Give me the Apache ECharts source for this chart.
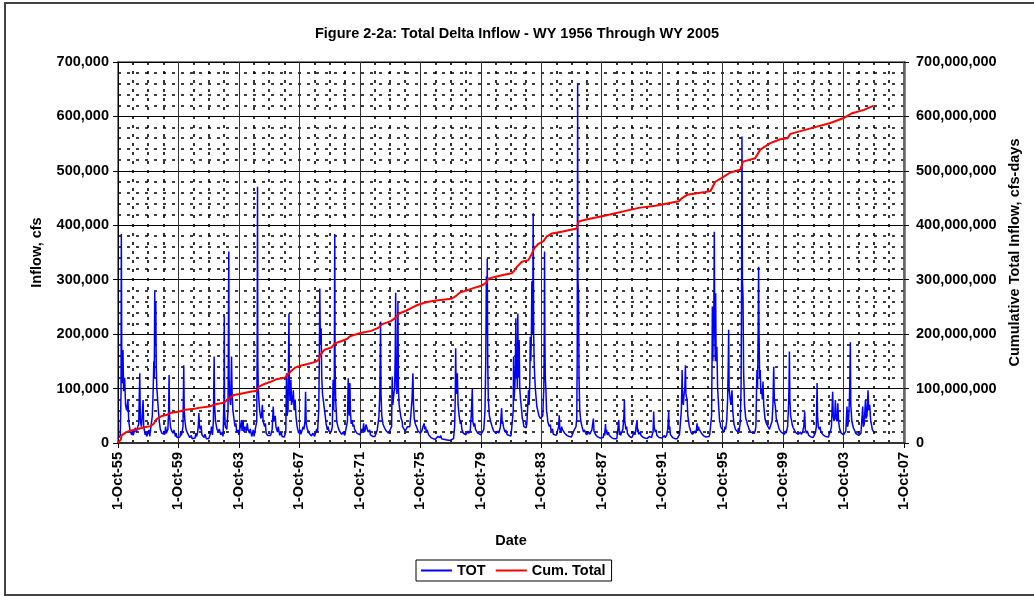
<!DOCTYPE html>
<html>
<head>
<meta charset="utf-8">
<script src="https://cdn.jsdelivr.net/npm/echarts@6/dist/echarts.min.js"></script>
<style>
  html, body { margin: 0; padding: 0; background: #fff; }
  #main { width: 1034px; height: 596px; }
</style>
</head>
<body>
<div id="main"></div>
<script>
// daily inflow (TOT): [decimal year, cfs]
var tot1956to1965 = [
  [1955.75,8000],[1955.82,11000],[1955.9,14000],[1955.95,90000],[1955.97,384000],[1956.0,150000],[1956.04,110000],[1956.08,171000],[1956.12,95000],[1956.19,120000],[1956.25,70000],[1956.32,60000],[1956.41,79000],[1956.46,40000],[1956.55,22000],[1956.65,15000],[1956.75,14000],
  [1956.85,15000],[1956.95,20000],[1957.05,18000],[1957.12,35000],[1957.19,128000],[1957.23,40000],[1957.3,30000],[1957.41,79000],[1957.45,30000],[1957.55,15000],[1957.65,12000],[1957.75,11000],
  [1957.85,12000],[1957.95,15000],[1958.02,50000],[1958.07,90000],[1958.12,150000],[1958.15,120000],[1958.18,278000],[1958.21,180000],[1958.25,260000],[1958.28,140000],[1958.32,100000],[1958.36,85000],[1958.42,60000],[1958.48,40000],[1958.55,25000],[1958.65,18000],[1958.75,15000],
  [1958.85,16000],[1958.95,18000],[1959.05,25000],[1959.1,60000],[1959.13,125000],[1959.16,50000],[1959.22,30000],[1959.3,22000],[1959.4,18000],[1959.55,12000],[1959.65,10000],[1959.75,10000],
  [1959.85,11000],[1959.95,14000],[1960.05,30000],[1960.1,143000],[1960.13,60000],[1960.18,40000],[1960.25,25000],[1960.35,18000],[1960.5,10000],[1960.65,8000],[1960.75,8000],
  [1960.85,9000],[1960.95,12000],[1961.02,20000],[1961.07,35000],[1961.1,55000],[1961.14,30000],[1961.2,25000],[1961.3,15000],[1961.45,10000],[1961.6,8000],[1961.75,8000],
  [1961.85,10000],[1961.93,30000],[1962.0,15000],[1962.06,40000],[1962.11,159000],[1962.14,70000],[1962.2,40000],[1962.3,25000],[1962.4,20000],[1962.55,15000],[1962.7,12000],[1962.75,13000],
  [1962.76,80000],[1962.78,233000],[1962.8,60000],[1962.85,30000],[1962.95,25000],[1963.03,60000],[1963.08,352000],[1963.1,120000],[1963.15,80000],[1963.2,70000],[1963.26,159000],[1963.3,90000],[1963.35,60000],[1963.42,45000],[1963.5,30000],[1963.6,20000],[1963.75,15000],
  [1963.85,18000],[1963.92,42000],[1963.96,22000],[1964.05,25000],[1964.15,30000],[1964.25,22000],[1964.35,25000],[1964.45,18000],[1964.6,12000],[1964.75,12000],
  [1964.85,15000],[1964.93,40000],[1964.96,200000],[1964.98,471000],[1965.0,150000],[1965.03,100000],[1965.07,79000],[1965.12,60000],[1965.2,45000],[1965.3,70000],[1965.35,40000],[1965.45,30000],[1965.55,18000],[1965.65,14000],[1965.75,13000]
];
var tot1966to1975 = [
  [1965.85,14000],[1965.95,25000],[1966.02,67000],[1966.06,40000],[1966.12,45000],[1966.2,30000],[1966.3,20000],[1966.45,14000],[1966.6,12000],[1966.75,11000],
  [1966.85,20000],[1966.9,128000],[1966.93,50000],[1967.0,60000],[1967.06,238000],[1967.09,100000],[1967.13,80000],[1967.19,116000],[1967.23,70000],[1967.3,80000],[1967.35,97000],[1967.4,60000],[1967.47,80000],[1967.52,50000],[1967.6,30000],[1967.7,18000],[1967.75,16000],
  [1967.85,16000],[1967.95,18000],[1968.05,25000],[1968.12,40000],[1968.16,94000],[1968.2,35000],[1968.28,25000],[1968.4,18000],[1968.55,13000],[1968.75,12000],
  [1968.85,14000],[1968.95,20000],[1969.03,60000],[1969.07,150000],[1969.1,284000],[1969.14,180000],[1969.19,211000],[1969.23,120000],[1969.28,90000],[1969.32,88000],[1969.37,70000],[1969.41,73000],[1969.46,50000],[1969.52,35000],[1969.6,24000],[1969.7,22000],[1969.75,20000],
  [1969.85,20000],[1969.93,30000],[1969.98,116000],[1970.02,60000],[1970.06,120000],[1970.09,384000],[1970.11,150000],[1970.15,80000],[1970.22,40000],[1970.3,30000],[1970.4,22000],[1970.55,16000],[1970.75,14000],
  [1970.85,15000],[1970.93,40000],[1970.98,119000],[1971.02,60000],[1971.06,50000],[1971.09,110000],[1971.13,55000],[1971.18,35000],[1971.24,42000],[1971.3,30000],[1971.4,25000],[1971.55,18000],[1971.75,15000],
  [1971.85,16000],[1971.95,22000],[1972.0,36000],[1972.05,20000],[1972.12,25000],[1972.2,30000],[1972.3,20000],[1972.45,15000],[1972.6,12000],[1972.75,12000],
  [1972.85,14000],[1972.95,25000],[1973.01,48000],[1973.07,90000],[1973.12,223000],[1973.15,90000],[1973.2,50000],[1973.28,35000],[1973.38,28000],[1973.5,22000],[1973.65,18000],[1973.75,17000],
  [1973.85,30000],[1973.89,122000],[1973.93,70000],[1974.0,90000],[1974.05,100000],[1974.09,160000],[1974.12,276000],[1974.15,120000],[1974.2,90000],[1974.24,140000],[1974.27,257000],[1974.3,100000],[1974.35,70000],[1974.4,67000],[1974.48,45000],[1974.58,30000],[1974.75,22000],
  [1974.85,20000],[1974.95,28000],[1975.05,30000],[1975.12,50000],[1975.2,80000],[1975.26,128000],[1975.3,70000],[1975.35,45000],[1975.42,35000],[1975.5,30000],[1975.6,22000],[1975.75,18000]
];
var tot1976to1985 = [
  [1975.85,22000],[1975.95,30000],[1976.0,36000],[1976.05,25000],[1976.15,20000],[1976.3,15000],[1976.45,10000],[1976.6,8000],[1976.75,7000],
  [1976.85,7000],[1976.95,9000],[1977.05,10000],[1977.15,8000],[1977.3,7000],[1977.45,6000],[1977.6,5000],[1977.75,5000],
  [1977.85,6000],[1977.95,8000],[1978.02,30000],[1978.06,80000],[1978.09,174000],[1978.12,100000],[1978.17,90000],[1978.2,128000],[1978.25,70000],[1978.32,50000],[1978.4,35000],[1978.5,25000],[1978.6,18000],[1978.75,15000],
  [1978.85,15000],[1978.95,18000],[1979.05,22000],[1979.12,50000],[1979.19,100000],[1979.22,40000],[1979.3,30000],[1979.4,25000],[1979.55,18000],[1979.75,15000],
  [1979.85,16000],[1979.95,25000],[1980.03,60000],[1980.08,150000],[1980.12,306000],[1980.15,200000],[1980.18,339000],[1980.21,150000],[1980.25,80000],[1980.32,50000],[1980.4,40000],[1980.5,30000],[1980.6,22000],[1980.75,18000],
  [1980.85,16000],[1980.95,18000],[1981.05,30000],[1981.13,64000],[1981.17,35000],[1981.25,30000],[1981.35,20000],[1981.5,15000],[1981.75,13000],
  [1981.85,15000],[1981.9,60000],[1981.92,159000],[1981.95,80000],[1982.0,100000],[1982.04,140000],[1982.07,229000],[1982.1,120000],[1982.14,150000],[1982.17,100000],[1982.2,238000],[1982.23,140000],[1982.26,120000],[1982.29,189000],[1982.33,100000],[1982.38,80000],[1982.43,67000],[1982.5,45000],[1982.6,30000],[1982.75,28000],
  [1982.85,35000],[1982.91,97000],[1982.95,70000],[1983.0,120000],[1983.02,195000],[1983.06,150000],[1983.1,200000],[1983.13,297000],[1983.16,200000],[1983.19,250000],[1983.22,422000],[1983.25,200000],[1983.28,150000],[1983.31,128000],[1983.36,100000],[1983.42,80000],[1983.46,67000],[1983.52,60000],[1983.6,50000],[1983.7,45000],[1983.75,45000],
  [1983.85,50000],[1983.92,100000],[1983.95,200000],[1983.97,352000],[1983.99,200000],[1984.02,120000],[1984.06,97000],[1984.1,60000],[1984.18,40000],[1984.28,30000],[1984.4,22000],[1984.55,16000],[1984.75,14000],
  [1984.85,15000],[1984.9,30000],[1984.94,51000],[1984.98,25000],[1985.05,20000],[1985.15,25000],[1985.3,18000],[1985.45,14000],[1985.6,12000],[1985.75,11000]
];
var tot1986to1995 = [
  [1985.85,12000],[1985.95,20000],[1986.05,30000],[1986.1,45000],[1986.13,150000],[1986.16,661000],[1986.18,300000],[1986.22,269000],[1986.25,120000],[1986.3,60000],[1986.37,40000],[1986.45,30000],[1986.55,20000],[1986.75,15000],
  [1986.85,14000],[1986.95,16000],[1987.05,18000],[1987.15,25000],[1987.2,45000],[1987.24,22000],[1987.35,15000],[1987.5,11000],[1987.65,9000],[1987.75,9000],
  [1987.85,10000],[1987.95,14000],[1988.0,35000],[1988.04,18000],[1988.12,15000],[1988.25,14000],[1988.4,10000],[1988.55,8000],[1988.75,8000],
  [1988.85,10000],[1988.88,42000],[1988.92,15000],[1989.0,14000],[1989.08,20000],[1989.15,25000],[1989.22,50000],[1989.25,79000],[1989.28,40000],[1989.35,25000],[1989.45,18000],[1989.6,12000],[1989.75,10000],
  [1989.85,12000],[1989.95,15000],[1990.05,18000],[1990.09,42000],[1990.12,20000],[1990.2,16000],[1990.35,14000],[1990.5,10000],[1990.75,8000],
  [1990.85,8000],[1990.95,9000],[1991.05,10000],[1991.15,20000],[1991.19,58000],[1991.22,30000],[1991.3,20000],[1991.4,14000],[1991.55,10000],[1991.75,9000],
  [1991.85,9000],[1991.95,10000],[1992.05,14000],[1992.12,25000],[1992.18,58000],[1992.21,25000],[1992.3,15000],[1992.45,10000],[1992.6,8000],[1992.75,8000],
  [1992.85,9000],[1992.95,15000],[1993.02,60000],[1993.05,100000],[1993.07,134000],[1993.1,80000],[1993.15,70000],[1993.2,90000],[1993.25,100000],[1993.29,143000],[1993.32,90000],[1993.4,79000],[1993.45,50000],[1993.55,30000],[1993.65,20000],[1993.75,16000],
  [1993.85,16000],[1993.95,18000],[1994.02,25000],[1994.06,36000],[1994.1,22000],[1994.2,25000],[1994.35,18000],[1994.5,13000],[1994.65,11000],[1994.75,11000],
  [1994.85,12000],[1994.95,14000],[1995.02,50000],[1995.05,150000],[1995.07,251000],[1995.1,150000],[1995.13,200000],[1995.17,250000],[1995.2,388000],[1995.23,200000],[1995.27,150000],[1995.29,275000],[1995.32,150000],[1995.37,177000],[1995.42,100000],[1995.49,67000],[1995.55,40000],[1995.62,30000],[1995.75,24000]
];
var tot1996to2005 = [
  [1995.85,20000],[1995.95,25000],[1996.02,40000],[1996.08,80000],[1996.12,140000],[1996.15,208000],[1996.18,100000],[1996.25,80000],[1996.3,70000],[1996.37,97000],[1996.42,60000],[1996.5,35000],[1996.6,25000],[1996.75,20000],
  [1996.85,22000],[1996.92,40000],[1996.97,100000],[1997.0,250000],[1997.03,563000],[1997.06,300000],[1997.1,269000],[1997.14,130000],[1997.2,70000],[1997.28,45000],[1997.38,35000],[1997.5,25000],[1997.62,20000],[1997.75,18000],
  [1997.85,18000],[1997.95,30000],[1998.02,134000],[1998.06,100000],[1998.1,200000],[1998.13,324000],[1998.16,200000],[1998.2,120000],[1998.24,134000],[1998.28,90000],[1998.33,100000],[1998.38,80000],[1998.42,113000],[1998.47,70000],[1998.55,45000],[1998.65,36000],[1998.75,30000],
  [1998.85,25000],[1998.95,30000],[1999.02,40000],[1999.08,70000],[1999.13,140000],[1999.17,80000],[1999.24,67000],[1999.3,45000],[1999.4,35000],[1999.5,25000],[1999.62,20000],[1999.75,18000],
  [1999.85,16000],[1999.95,18000],[2000.05,30000],[2000.1,60000],[2000.14,100000],[2000.17,168000],[2000.2,80000],[2000.25,50000],[2000.32,40000],[2000.42,28000],[2000.55,20000],[2000.75,16000],
  [2000.85,15000],[2000.95,16000],[2001.05,20000],[2001.12,30000],[2001.18,58000],[2001.22,25000],[2001.3,18000],[2001.45,14000],[2001.6,11000],[2001.75,10000],
  [2001.85,12000],[2001.95,30000],[2002.0,110000],[2002.03,50000],[2002.08,30000],[2002.15,25000],[2002.25,20000],[2002.4,15000],[2002.55,12000],[2002.75,11000],
  [2002.85,12000],[2002.95,30000],[2003.03,94000],[2003.07,50000],[2003.12,40000],[2003.17,50000],[2003.21,79000],[2003.25,45000],[2003.32,40000],[2003.37,73000],[2003.42,40000],[2003.5,25000],[2003.6,18000],[2003.75,15000],
  [2003.85,14000],[2003.93,20000],[2003.98,67000],[2004.02,30000],[2004.08,40000],[2004.14,80000],[2004.17,120000],[2004.2,185000],[2004.23,70000],[2004.3,40000],[2004.4,28000],[2004.55,18000],[2004.75,14000],
  [2004.85,14000],[2004.95,20000],[2005.02,67000],[2005.06,30000],[2005.12,35000],[2005.2,79000],[2005.25,45000],[2005.3,50000],[2005.37,97000],[2005.42,60000],[2005.48,70000],[2005.55,40000],[2005.65,25000],[2005.75,20000]
];
// smaller wiggles in the low-flow band between the storm peaks
var totSmallPeaks = [
  [1956.7,22000],[1956.9,28000],[1957.6,20000],[1957.8,24000],[1958.6,26000],[1958.9,30000],[1959.45,24000],[1959.6,18000],[1959.9,22000],
  [1960.4,20000],[1960.6,14000],[1960.9,18000],[1961.25,32000],[1961.5,16000],[1961.9,20000],[1962.25,38000],[1962.45,26000],[1962.65,20000],
  [1963.55,36000],[1963.7,24000],[1964.03,42000],[1964.1,20000],[1964.3,36000],[1964.5,26000],[1964.7,24000],[1965.25,50000],[1965.5,36000],[1965.9,20000],
  [1966.15,50000],[1966.35,30000],[1966.55,20000],[1967.8,24000],[1968.0,30000],[1968.35,28000],[1968.5,20000],[1968.65,18000],[1968.9,26000],
  [1969.65,30000],[1970.35,28000],[1970.5,24000],[1970.65,20000],[1971.35,34000],[1971.5,24000],[1971.65,20000],[1971.9,26000],
  [1972.15,34000],[1972.4,24000],[1972.55,18000],[1972.9,24000],[1973.45,30000],[1973.6,24000],[1974.55,40000],[1974.65,28000],[1974.9,30000],
  [1975.55,28000],[1975.7,24000],[1975.9,28000],[1976.1,30000],[1976.2,24000],[1976.35,14000],[1976.9,12000],[1977.1,14000],[1977.2,10000],
  [1978.45,40000],[1978.55,26000],[1978.9,22000],[1979.35,36000],[1979.45,28000],[1979.65,20000],[1980.45,40000],[1980.55,28000],[1980.9,22000],
  [1981.2,40000],[1981.4,24000],[1981.6,18000],[1982.55,40000],[1982.65,30000],[1982.8,36000],[1983.65,52000],[1984.15,50000],[1984.35,34000],
  [1984.5,26000],[1984.65,18000],[1985.1,30000],[1985.25,26000],[1985.4,20000],[1985.9,22000],[1986.4,38000],[1986.6,24000],[1986.9,20000],
  [1987.1,24000],[1987.4,16000],[1987.9,18000],[1988.08,24000],[1988.2,20000],[1988.35,16000],[1988.95,22000],[1989.05,18000],[1989.4,30000],
  [1989.5,16000],[1989.9,20000],[1990.15,26000],[1990.3,20000],[1990.45,14000],[1990.9,12000],[1991.1,16000],[1991.35,24000],[1991.5,14000],
  [1991.9,14000],[1992.08,20000],[1992.25,30000],[1992.4,16000],[1992.9,16000],[1993.5,40000],[1993.6,26000],[1993.9,22000],[1994.15,30000],
  [1994.3,24000],[1994.45,18000],[1994.9,16000],[1995.6,36000],[1995.9,30000],[1996.45,50000],[1996.55,30000],[1996.8,28000],[1997.35,40000],
  [1997.45,30000],[1997.55,24000],[1997.9,22000],[1998.6,40000],[1998.7,34000],[1998.9,30000],[1999.35,40000],[1999.45,30000],[1999.55,26000],
  [1999.9,22000],[2000.35,34000],[2000.5,24000],[2000.9,20000],[2001.08,26000],[2001.35,22000],[2001.5,16000],[2001.9,20000],[2002.2,30000],
  [2002.35,20000],[2002.5,14000],[2002.9,24000],[2003.45,34000],[2003.55,22000],[2003.9,22000],[2004.35,34000],[2004.5,22000],[2004.65,18000],
  [2004.9,18000],[2005.6,34000],[2005.7,22000]
];

// cumulative total inflow, cfs-days: [decimal year, value]
var cumTotal = [
  [1955.75,0],[1955.85,2000000],[1955.93,6000000],[1955.99,14000000],[1956.05,17000000],[1956.3,20000000],[1956.6,23000000],[1957.0,25000000],[1957.25,27000000],[1957.5,29000000],[1957.9,31000000],[1958.1,35000000],[1958.3,44000000],[1958.6,49000000],[1959.0,52000000],[1959.2,55000000],[1959.8,58000000],[1960.2,61000000],[1960.8,63000000],[1961.2,65000000],[1961.8,67000000],[1962.2,71000000],[1962.75,74000000],[1962.8,76000000],[1963.1,82000000],[1963.4,88000000],[1963.8,90000000],[1964.5,94000000],[1964.95,96000000],[1965.05,103000000],[1965.4,108000000],[1965.8,112000000],[1966.2,117000000],[1966.8,120000000],[1966.95,125000000],[1967.15,131000000],[1967.5,139000000],[1967.8,142000000],[1968.3,145000000],[1968.8,149000000],
  [1969.0,152000000],[1969.14,162000000],[1969.4,171000000],[1969.9,176000000],[1970.1,183000000],[1970.5,187000000],[1970.9,191000000],[1971.1,196000000],[1971.8,202000000],[1972.5,206000000],[1973.0,212000000],[1973.2,218000000],[1973.8,224000000],[1974.1,230000000],[1974.35,238000000],[1974.8,243000000],[1975.3,250000000],[1975.6,254000000],[1976.2,259000000],[1976.8,262000000],[1977.8,265000000],[1978.1,270000000],[1978.4,277000000],[1978.8,280000000],[1979.3,285000000],[1979.8,289000000],[1980.1,294000000],[1980.25,302000000],[1980.8,306000000],[1981.3,309000000],[1981.8,312000000],
  [1981.95,316000000],[1982.15,324000000],[1982.47,333000000],[1982.9,336000000],[1983.1,346000000],[1983.3,358000000],[1983.57,366000000],[1983.9,371000000],[1984.1,379000000],[1984.46,385000000],[1985.1,388000000],[1986.1,394000000],[1986.22,407000000],[1986.66,410000000],[1988.0,418000000],[1990.2,432000000],[1991.3,436000000],[1992.85,444000000],[1993.07,450000000],[1993.4,456000000],[1994.6,461000000],[1994.95,463000000],
  [1995.26,480000000],[1995.7,487000000],[1996.26,497000000],[1996.92,502000000],[1997.1,517000000],[1997.9,523000000],[1998.24,539000000],[1998.9,551000000],[1999.57,558000000],[2000.05,560000000],[2000.23,568000000],[2001.56,578000000],[2002.88,588000000],[2003.76,597000000],[2004.32,606000000],[2005.1,612000000],[2005.75,620000000]
];

var startYear = 1955.75; // 1-Oct-55, left end of the date axis

function toAxis(list) {
  return list.map(function (p) { return [p[0] - startYear, p[1]]; });
}
function commas(v) {
  return String(v).replace(/\B(?=(\d{3})+(?!\d))/g, ',');
}

var totAll = [].concat(tot1956to1965, tot1966to1975, tot1976to1985, tot1986to1995, tot1996to2005, totSmallPeaks);
totAll.sort(function (a, b) { return a[0] - b[0]; });
var totData = toAxis(totAll);
var cumData = toAxis(cumTotal);

var font = 'Liberation Sans, Arial, sans-serif';
var dotted = { color: '#000', width: 1.6, type: [3, 6] };
var txt = { fontFamily: font, fontWeight: 'bold', fontSize: 14.5, color: '#000' };

var chart = echarts.init(document.getElementById('main'));
var option = {
  animation: false,
  title: {
    text: 'Figure 2-2a: Total Delta Inflow - WY 1956 Through WY 2005',
    left: 'center',
    top: 21,
    textStyle: txt
  },
  graphic: [{
    type: 'rect',
    shape: { x: 5, y: 3, width: 1040, height: 592 },
    style: { fill: null, stroke: '#444', lineWidth: 2 },
    silent: true
  }],
  legend: {
    left: 416,
    top: 560,
    padding: [3, 6, 3, 5],
    itemGap: 10,
    itemWidth: 31,
    itemHeight: 2,
    icon: 'rect',
    borderColor: '#000',
    borderWidth: 1,
    textStyle: txt,
    data: ['TOT', 'Cum. Total']
  },
  grid: {
    left: 118, right: 130, top: 62, bottom: 153,
    show: true, borderColor: '#808080', borderWidth: 2
  },
  xAxis: {
    type: 'value',
    min: 0, max: 52, interval: 4,
    name: 'Date',
    nameLocation: 'middle',
    nameGap: 90,
    nameTextStyle: txt,
    axisLine: { lineStyle: { color: '#333', width: 2 } },
    axisTick: { length: 5, lineStyle: { color: '#000' } },
    axisLabel: Object.assign({
      rotate: 90, margin: 9,
      formatter: function (v) { return '1-Oct-' + String((55 + v) % 100).padStart(2, '0'); }
    }, txt),
    splitLine: { show: true, lineStyle: { color: '#333', width: 1 } },
    minorTick: { show: false, splitNumber: 4 },
    minorSplitLine: { show: true, lineStyle: dotted }
  },
  yAxis: [{
    type: 'value',
    min: 0, max: 700000, interval: 100000,
    name: 'Inflow, cfs',
    nameLocation: 'middle',
    nameGap: 74,
    nameRotate: 90,
    nameTextStyle: txt,
    axisLine: { show: true, lineStyle: { color: '#000', width: 1 } },
    axisTick: { show: true, length: 5, lineStyle: { color: '#000' } },
    axisLabel: Object.assign({ margin: 9, formatter: commas }, txt),
    splitLine: { show: true, lineStyle: { color: '#000', width: 1 } },
    minorTick: { show: false, splitNumber: 5 },
    minorSplitLine: { show: true, lineStyle: dotted }
  }, {
    type: 'value',
    position: 'right',
    min: 0, max: 700000000, interval: 100000000,
    name: 'Cumulative Total Inflow, cfs-days',
    nameLocation: 'middle',
    nameGap: 88,
    nameRotate: 90,
    nameTextStyle: txt,
    axisLine: { show: true, lineStyle: { color: '#666', width: 2.5 } },
    axisTick: { show: true, length: 5, lineStyle: { color: '#000' } },
    axisLabel: Object.assign({ margin: 12, formatter: commas }, txt),
    splitLine: { show: false }
  }],
  series: [{
    name: 'TOT',
    type: 'line',
    yAxisIndex: 0,
    data: totData,
    showSymbol: false,
    color: '#0000FF',
    lineStyle: { color: '#0000FF', width: 1.5 }
  }, {
    name: 'Cum. Total',
    type: 'line',
    yAxisIndex: 1,
    data: cumData,
    showSymbol: false,
    color: '#FF0000',
    lineStyle: { color: '#FF0000', width: 2 }
  }]
};
chart.setOption(option);
</script>
</body>
</html>
